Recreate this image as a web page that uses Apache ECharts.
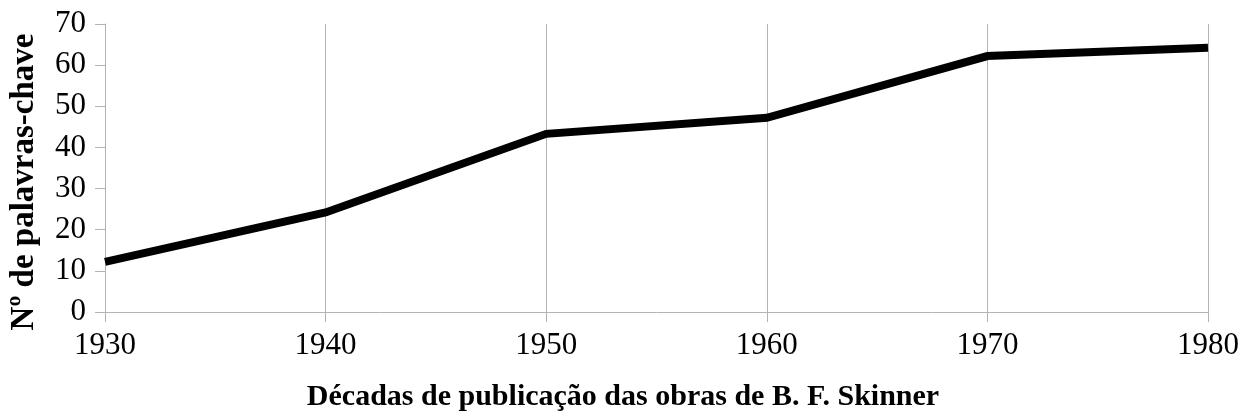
<!DOCTYPE html>
<html>
<head>
<meta charset="utf-8">
<script src="https://cdn.jsdelivr.net/npm/echarts@6/dist/echarts.min.js"></script>
<style>
  html, body { margin: 0; padding: 0; background: #fff; }
  #chart { width: 1250px; height: 417px; }
</style>
</head>
<body>
<div id="chart"></div>
<script>
// décadas e nº de palavras-chave
var decadas = ['1930', '1940', '1950', '1960', '1970', '1980'];
var palavras = [12.2, 24.2, 43.3, 47.2, 62.2, 64.2];
var tituloX = 'Décadas de publicação das obras de B. F. Skinner';
var tituloY = 'Nº de palavras-chave';

var serif = '"Liberation Serif", "Times New Roman", serif';
var cinza = '#b3b3b3';

var chart = echarts.init(document.getElementById('chart'));
chart.setOption({
  animation: false,
  grid: { left: 105, right: 42, top: 24, bottom: 105 },
  // titulos dos eixos como texto livre (nao ficam centrados na area do grafico)
  graphic: [
    {
      type: 'text', x: 623, y: 397,
      style: { text: tituloX, fontFamily: serif, fontSize: 30, fontWeight: 'bold',
               fill: '#000', align: 'center', verticalAlign: 'middle' }
    },
    {
      type: 'text', x: 24, y: 182, rotation: Math.PI / 2,
      style: { text: tituloY, fontFamily: serif, fontSize: 33, fontWeight: 'bold',
               fill: '#000', align: 'center', verticalAlign: 'middle' }
    }
  ],
  xAxis: {
    type: 'category',
    data: decadas,
    boundaryGap: false,
    axisLine: { lineStyle: { color: cinza, width: 1 } },
    axisTick: { show: true, length: 10, lineStyle: { color: cinza } },
    axisLabel: { fontFamily: serif, fontSize: 31, color: '#000', margin: 18 },
    splitLine: { show: true, lineStyle: { color: cinza, width: 1 } }
  },
  yAxis: {
    type: 'value',
    min: 0, max: 70, interval: 10,
    axisLine: { show: true, lineStyle: { color: cinza, width: 1 } },
    axisTick: { show: true, length: 10, lineStyle: { color: cinza } },
    axisLabel: { fontFamily: serif, fontSize: 31, color: '#000', margin: 19 },
    splitLine: { show: false }
  },
  series: [{
    type: 'line',
    data: palavras,
    showSymbol: false,
    lineStyle: { color: '#000', width: 8, join: 'miter' }
  }]
});
</script>
</body>
</html>
